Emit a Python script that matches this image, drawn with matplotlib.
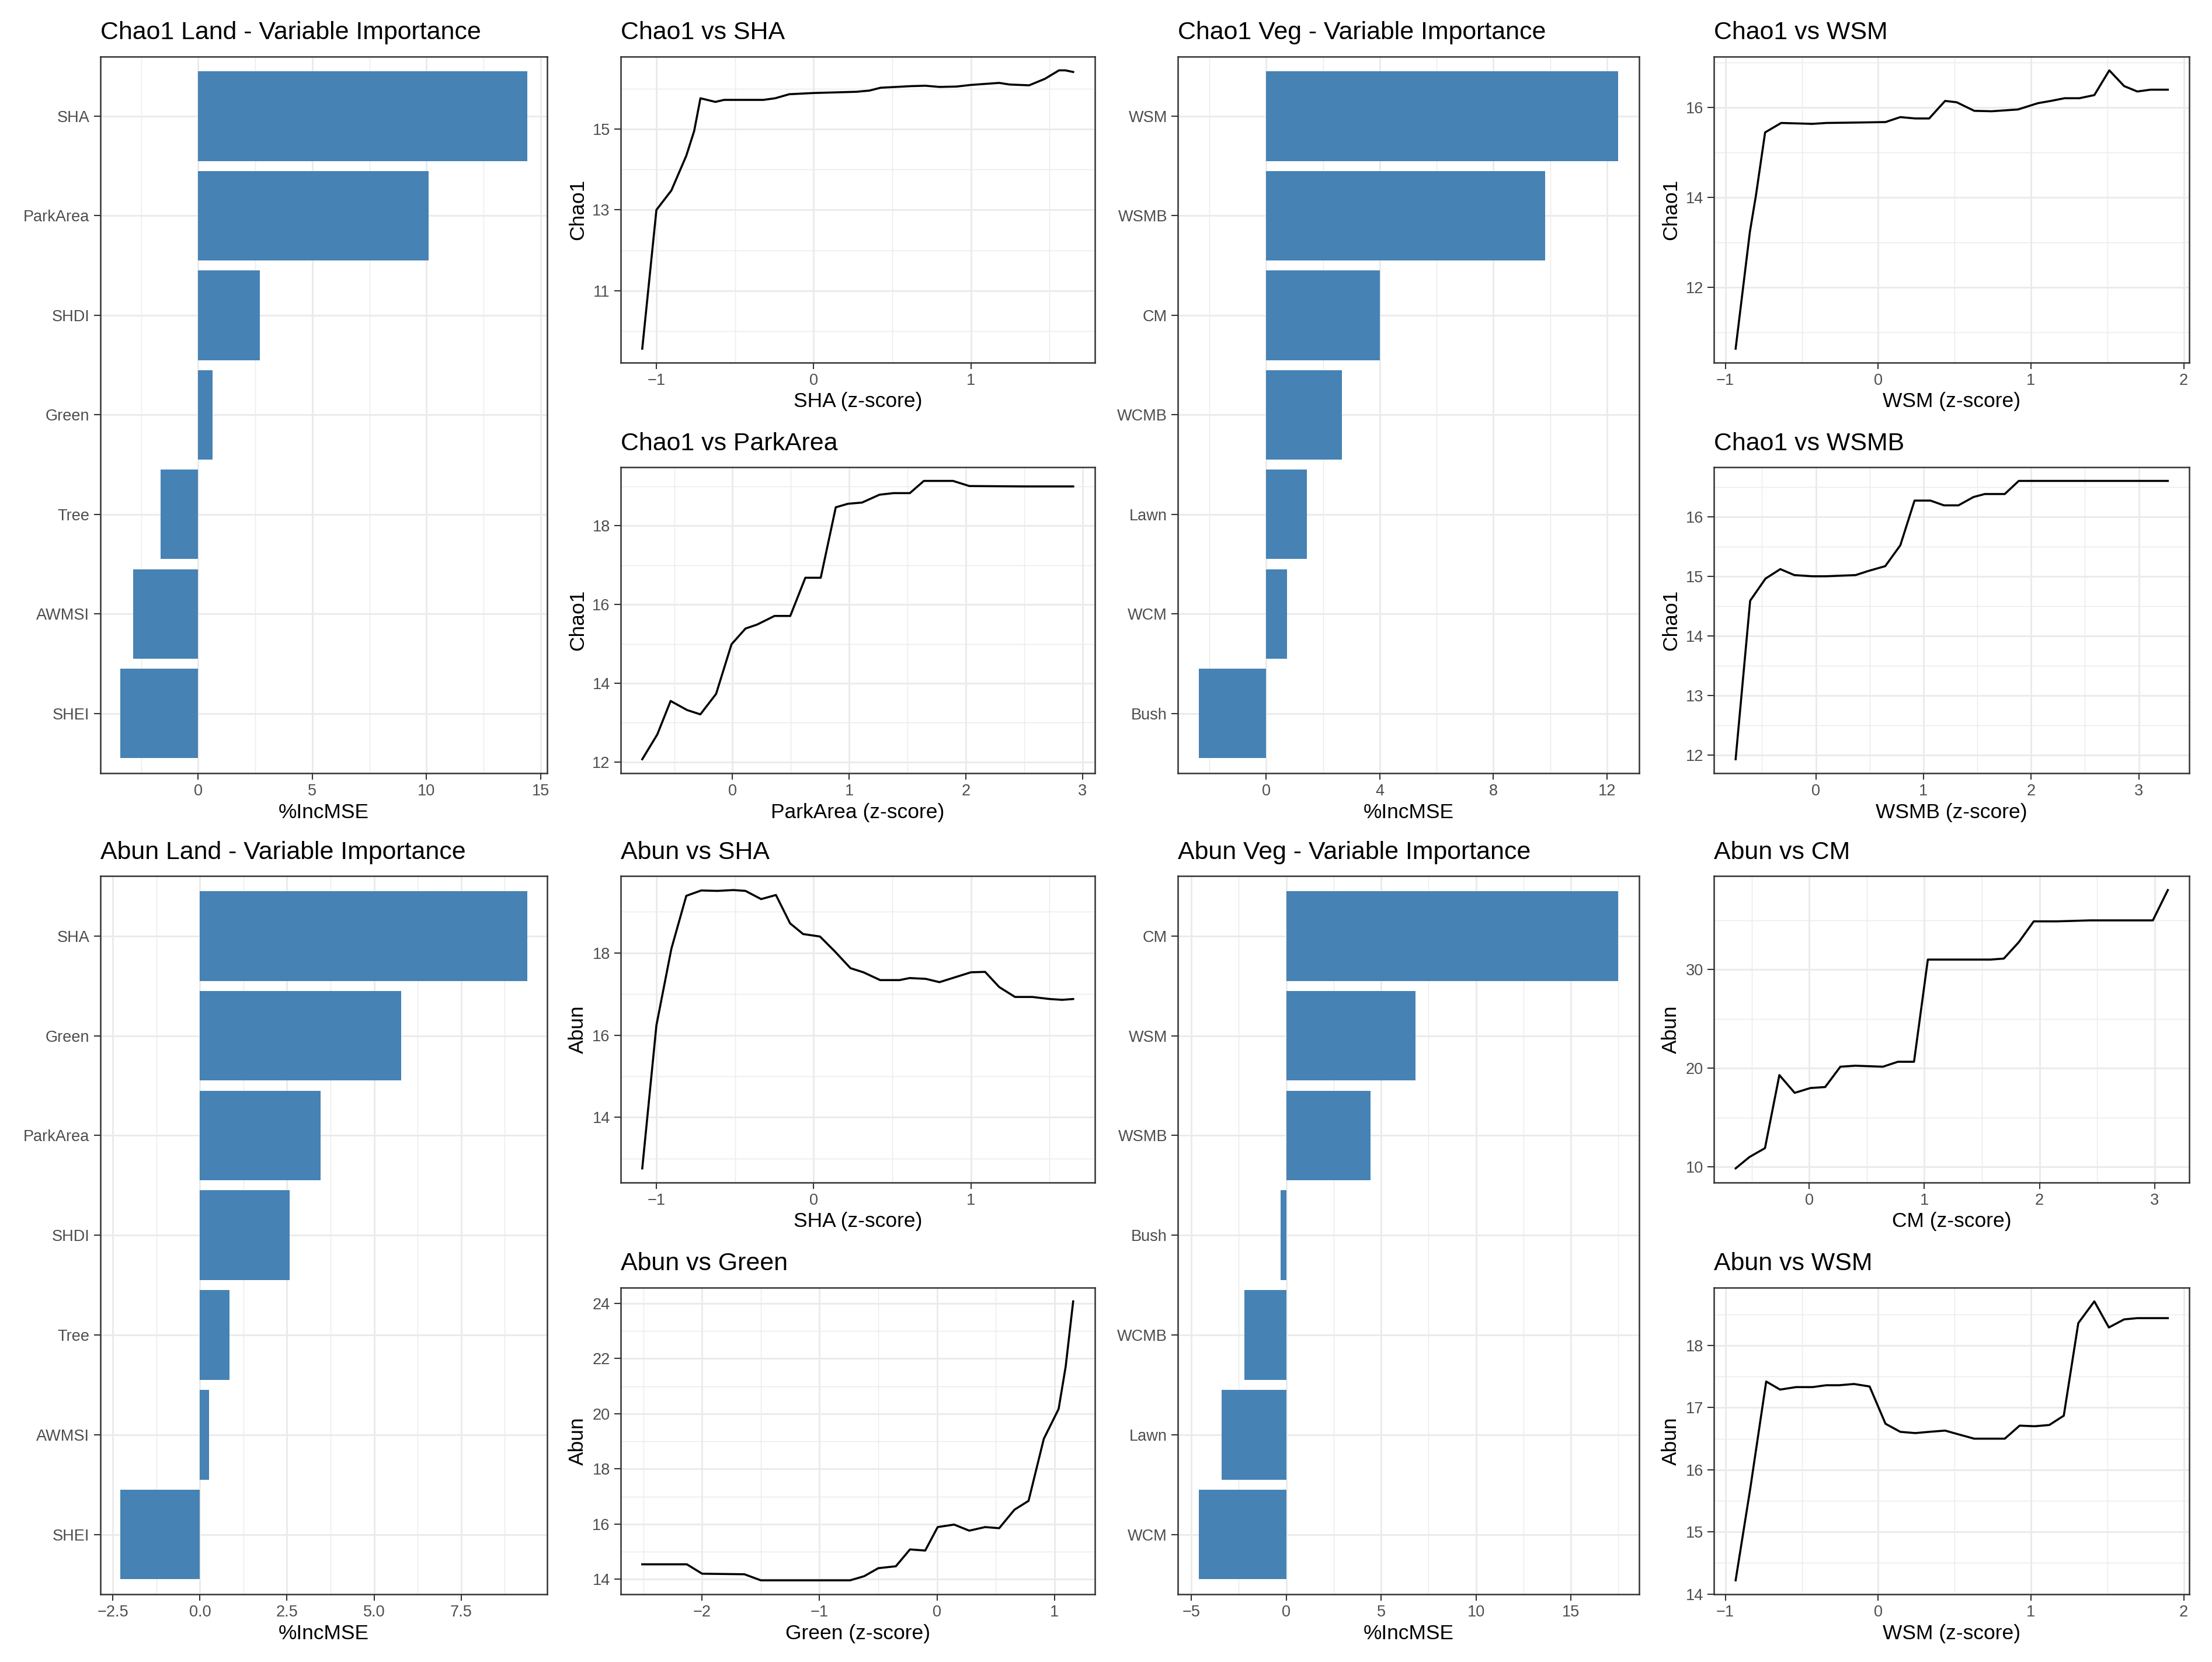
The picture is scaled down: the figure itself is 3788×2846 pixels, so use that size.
import matplotlib
matplotlib.use('Agg')
import matplotlib.pyplot as plt
from matplotlib.ticker import FixedLocator

plt.rcParams['font.family'] = ['Liberation Sans', 'DejaVu Sans']

#### DATA - variable importance (%IncMSE), listed top to bottom
chao1_land_vars = ['SHA', 'ParkArea', 'SHDI', 'Green', 'Tree', 'AWMSI', 'SHEI']
chao1_land_imp = [14.4, 10.1, 2.7, 0.62, -1.65, -2.85, -3.4]
chao1_land_ticks = [0, 5, 10, 15]

chao1_veg_vars = ['WSM', 'WSMB', 'CM', 'WCMB', 'Lawn', 'WCM', 'Bush']
chao1_veg_imp = [12.4, 9.83, 4.0, 2.67, 1.43, 0.74, -2.37]
chao1_veg_ticks = [0, 4, 8, 12]

abun_land_vars = ['SHA', 'Green', 'ParkArea', 'SHDI', 'Tree', 'AWMSI', 'SHEI']
abun_land_imp = [9.39, 5.78, 3.47, 2.58, 0.85, 0.27, -2.28]
abun_land_ticks = [-2.5, 0.0, 2.5, 5.0, 7.5]

abun_veg_vars = ['CM', 'WSM', 'WSMB', 'Bush', 'WCMB', 'Lawn', 'WCM']
abun_veg_imp = [17.5, 6.8, 4.45, -0.28, -2.2, -3.4, -4.6]
abun_veg_ticks = [-5, 0, 5, 10, 15]

#### DATA - partial dependence curves
chao1_sha_x = [-1.09, -1.0, -0.905, -0.81, -0.76, -0.72, -0.625, -0.57, -0.32, -0.245, -0.155, 0.0,
               0.27, 0.355, 0.425, 0.62, 0.71, 0.80, 0.91, 1.0, 1.18, 1.245, 1.37, 1.47, 1.56, 1.6, 1.65]
chao1_sha_y = [9.57, 13.0, 13.48, 14.34, 14.95, 15.76, 15.67, 15.72, 15.72, 15.76, 15.86, 15.89,
               15.92, 15.95, 16.02, 16.06, 16.07, 16.04, 16.05, 16.09, 16.14, 16.1, 16.08, 16.24, 16.45, 16.45, 16.41]

chao1_park_x = [-0.774, -0.645, -0.531, -0.39, -0.276, -0.141, -0.009, 0.111, 0.21, 0.36, 0.495, 0.624,
                0.756, 0.885, 0.99, 1.11, 1.26, 1.38, 1.52, 1.64, 1.89, 2.03, 2.49, 2.92]
chao1_park_y = [12.07, 12.7, 13.55, 13.32, 13.21, 13.73, 14.99, 15.39, 15.49, 15.71, 15.71, 16.68,
                16.68, 18.47, 18.56, 18.59, 18.79, 18.83, 18.83, 19.14, 19.14, 19.01, 19.0, 19.0]

chao1_wsm_x = [-0.933, -0.84, -0.80, -0.74, -0.635, -0.43, -0.34, -0.126, 0.048, 0.145, 0.243, 0.334,
               0.438, 0.514, 0.629, 0.742, 0.915, 1.046, 1.13, 1.22, 1.317, 1.415, 1.513, 1.61, 1.696,
               1.783, 1.896]
chao1_wsm_y = [10.64, 13.23, 14.05, 15.45, 15.66, 15.64, 15.66, 15.67, 15.68, 15.79, 15.76, 15.76,
               16.15, 16.12, 15.93, 15.92, 15.96, 16.1, 16.15, 16.21, 16.21, 16.28, 16.83, 16.48, 16.36,
               16.4, 16.4]

chao1_wsmb_x = [-0.745, -0.61, -0.468, -0.33, -0.2, -0.03, 0.09, 0.37, 0.49, 0.645, 0.785, 0.917,
                1.065, 1.19, 1.325, 1.465, 1.57, 1.755, 1.885, 2.25, 3.27]
chao1_wsmb_y = [11.93, 14.59, 14.96, 15.12, 15.02, 15.0, 15.0, 15.02, 15.09, 15.17, 15.52, 16.27,
                16.27, 16.19, 16.19, 16.33, 16.38, 16.38, 16.6, 16.6, 16.6]

abun_sha_x = [-1.09, -1.0, -0.905, -0.81, -0.715, -0.613, -0.51, -0.434, -0.334, -0.24, -0.15, -0.067,
              0.04, 0.134, 0.234, 0.316, 0.423, 0.546, 0.61, 0.713, 0.80, 0.90, 1.0, 1.09, 1.18, 1.28,
              1.39, 1.50, 1.58, 1.65]
abun_sha_y = [12.76, 16.24, 18.1, 19.39, 19.52, 19.51, 19.53, 19.51, 19.31, 19.41, 18.72, 18.46,
              18.4, 18.04, 17.63, 17.53, 17.34, 17.34, 17.39, 17.37, 17.29, 17.41, 17.53, 17.54, 17.17,
              16.93, 16.93, 16.88, 16.86, 16.88]

abun_green_x = [-2.51, -2.13, -2.0, -1.64, -1.5, -1.26, -1.11, -0.74, -0.62, -0.5, -0.35, -0.23, -0.1,
                0.006, 0.146, 0.275, 0.41, 0.53, 0.66, 0.78, 0.91, 1.036, 1.096, 1.16]
abun_green_y = [14.54, 14.54, 14.2, 14.18, 13.96, 13.96, 13.96, 13.96, 14.11, 14.4, 14.47, 15.08, 15.04,
                15.89, 15.98, 15.76, 15.89, 15.85, 16.52, 16.84, 19.09, 20.17, 21.7, 24.07]

abun_cm_x = [-0.64, -0.52, -0.385, -0.26, -0.127, 0.01, 0.138, 0.27, 0.40, 0.64, 0.77, 0.91, 1.03,
             1.29, 1.575, 1.69, 1.82, 1.95, 2.15, 2.44, 2.73, 2.985, 3.115]
abun_cm_y = [9.85, 11.0, 11.9, 19.3, 17.5, 17.99, 18.09, 20.15, 20.25, 20.15, 20.65, 20.65, 31.0,
             31.0, 31.0, 31.1, 32.76, 34.87, 34.87, 34.97, 34.97, 34.97, 38.04]

abun_wsm_x = [-0.933, -0.837, -0.733, -0.642, -0.538, -0.43, -0.34, -0.256, -0.158, -0.056, 0.048,
              0.145, 0.243, 0.334, 0.438, 0.525, 0.629, 0.731, 0.829, 0.926, 1.024, 1.12, 1.215, 1.31,
              1.415, 1.51, 1.61, 1.696, 1.896]
abun_wsm_y = [14.22, 15.7, 17.42, 17.29, 17.33, 17.33, 17.36, 17.36, 17.38, 17.34, 16.74, 16.61,
              16.59, 16.61, 16.63, 16.57, 16.5, 16.5, 16.5, 16.71, 16.7, 16.72, 16.87, 18.36, 18.71,
              18.29, 18.42, 18.44, 18.44]

#### STYLE
BAR_COLOR = '#4682B4'
GRID = '#EBEBEB'
BORDER = '#333333'
TICKLAB = '#4D4D4D'
TITLE_SIZE = 10.3
TITLE_PAD = 7
W, H = 1568.0, 1178.0  # reference layout units


def box(x0, y0, x1, y1):
    return [x0 / W, 1 - y1 / H, (x1 - x0) / W, (y1 - y0) / H]


def fmt(v, dec):
    s = f'{abs(v):.{dec}f}'
    return ('\u2212' + s) if v < 0 else s


def midpoints(ticks):
    step = ticks[1] - ticks[0]
    return [ticks[0] - step / 2] + [t + step / 2 for t in ticks]


def base_style(ax):
    for s in ax.spines.values():
        s.set_color(BORDER)
        s.set_linewidth(0.6)
    ax.set_axisbelow(True)
    ax.tick_params(which='major', length=2.6, width=0.5, color=BORDER,
                   labelsize=6.5, labelcolor=TICKLAB, pad=1.8)
    ax.tick_params(which='minor', length=0)


def set_x(ax, ticks, dec=0):
    ax.xaxis.set_major_locator(FixedLocator(ticks))
    ax.xaxis.set_minor_locator(FixedLocator(midpoints(ticks)))
    ax.set_xticklabels([fmt(t, dec) for t in ticks])
    ax.grid(axis='x', which='major', color=GRID, linewidth=0.7)
    ax.grid(axis='x', which='minor', color=GRID, linewidth=0.35)


def set_y(ax, ticks, dec=0):
    ax.yaxis.set_major_locator(FixedLocator(ticks))
    ax.yaxis.set_minor_locator(FixedLocator(midpoints(ticks)))
    ax.set_yticklabels([fmt(t, dec) for t in ticks])
    ax.grid(axis='y', which='major', color=GRID, linewidth=0.7)
    ax.grid(axis='y', which='minor', color=GRID, linewidth=0.35)


def importance_plot(rect, title, names, vals, ticks, dec=0):
    ax = fig.add_axes(rect)
    n = len(names)
    pos = list(range(n))[::-1]
    ax.barh(pos, vals, height=0.9, color=BAR_COLOR, zorder=2)
    ax.set_ylim(-0.6, n - 0.4)
    ax.margins(x=0.05)
    ax.set_yticks(pos)
    ax.set_yticklabels(names)
    ax.grid(axis='y', which='major', color=GRID, linewidth=0.7)
    set_x(ax, ticks, dec)
    base_style(ax)
    ax.set_title(title, loc='left', fontsize=TITLE_SIZE, pad=TITLE_PAD)
    ax.set_xlabel('%IncMSE', fontsize=8.5, labelpad=1.5)
    return ax


def pdp_plot(rect, title, xs, ys, xlab, ylab, xticks, yticks):
    ax = fig.add_axes(rect)
    ax.plot(xs, ys, color='black', linewidth=0.85, zorder=3)
    ax.margins(0.05)
    set_x(ax, xticks)
    set_y(ax, yticks)
    base_style(ax)
    ax.set_title(title, loc='left', fontsize=TITLE_SIZE, pad=TITLE_PAD)
    ax.set_xlabel(xlab, fontsize=8.5, labelpad=1.5)
    ax.set_ylabel(ylab, fontsize=8.5, labelpad=2)
    return ax


fig = plt.figure(figsize=(3788 / 300, 2846 / 300), dpi=300)

# column / row edges of the panels
C1, C2, C3, C4 = (71, 388), (440, 776), (835, 1162), (1215, 1552)
TOP_FULL, TOP_A, TOP_B = (40, 548), (40, 257), (331, 548)
BOT_FULL, BOT_A, BOT_B = (621, 1130), (621, 838), (912.5, 1130)

importance_plot(box(C1[0], TOP_FULL[0], C1[1], TOP_FULL[1]), 'Chao1 Land - Variable Importance',
                chao1_land_vars, chao1_land_imp, chao1_land_ticks)
pdp_plot(box(C2[0], TOP_A[0], C2[1], TOP_A[1]), 'Chao1 vs SHA', chao1_sha_x, chao1_sha_y,
         'SHA (z-score)', 'Chao1', [-1, 0, 1], [11, 13, 15])
pdp_plot(box(C2[0], TOP_B[0], C2[1], TOP_B[1]), 'Chao1 vs ParkArea', chao1_park_x, chao1_park_y,
         'ParkArea (z-score)', 'Chao1', [0, 1, 2, 3], [12, 14, 16, 18])
importance_plot(box(C3[0], TOP_FULL[0], C3[1], TOP_FULL[1]), 'Chao1 Veg - Variable Importance',
                chao1_veg_vars, chao1_veg_imp, chao1_veg_ticks)
pdp_plot(box(C4[0], TOP_A[0], C4[1], TOP_A[1]), 'Chao1 vs WSM', chao1_wsm_x, chao1_wsm_y,
         'WSM (z-score)', 'Chao1', [-1, 0, 1, 2], [12, 14, 16])
pdp_plot(box(C4[0], TOP_B[0], C4[1], TOP_B[1]), 'Chao1 vs WSMB', chao1_wsmb_x, chao1_wsmb_y,
         'WSMB (z-score)', 'Chao1', [0, 1, 2, 3], [12, 13, 14, 15, 16])

importance_plot(box(C1[0], BOT_FULL[0], C1[1], BOT_FULL[1]), 'Abun Land - Variable Importance',
                abun_land_vars, abun_land_imp, abun_land_ticks, dec=1)
pdp_plot(box(C2[0], BOT_A[0], C2[1], BOT_A[1]), 'Abun vs SHA', abun_sha_x, abun_sha_y,
         'SHA (z-score)', 'Abun', [-1, 0, 1], [14, 16, 18])
pdp_plot(box(C2[0], BOT_B[0], C2[1], BOT_B[1]), 'Abun vs Green', abun_green_x, abun_green_y,
         'Green (z-score)', 'Abun', [-2, -1, 0, 1], [14, 16, 18, 20, 22, 24])
importance_plot(box(C3[0], BOT_FULL[0], C3[1], BOT_FULL[1]), 'Abun Veg - Variable Importance',
                abun_veg_vars, abun_veg_imp, abun_veg_ticks)
pdp_plot(box(C4[0], BOT_A[0], C4[1], BOT_A[1]), 'Abun vs CM', abun_cm_x, abun_cm_y,
         'CM (z-score)', 'Abun', [0, 1, 2, 3], [10, 20, 30])
pdp_plot(box(C4[0], BOT_B[0], C4[1], BOT_B[1]), 'Abun vs WSM', abun_wsm_x, abun_wsm_y,
         'WSM (z-score)', 'Abun', [-1, 0, 1, 2], [14, 15, 16, 17, 18])

fig.savefig('out.png', dpi=300, facecolor='white')
